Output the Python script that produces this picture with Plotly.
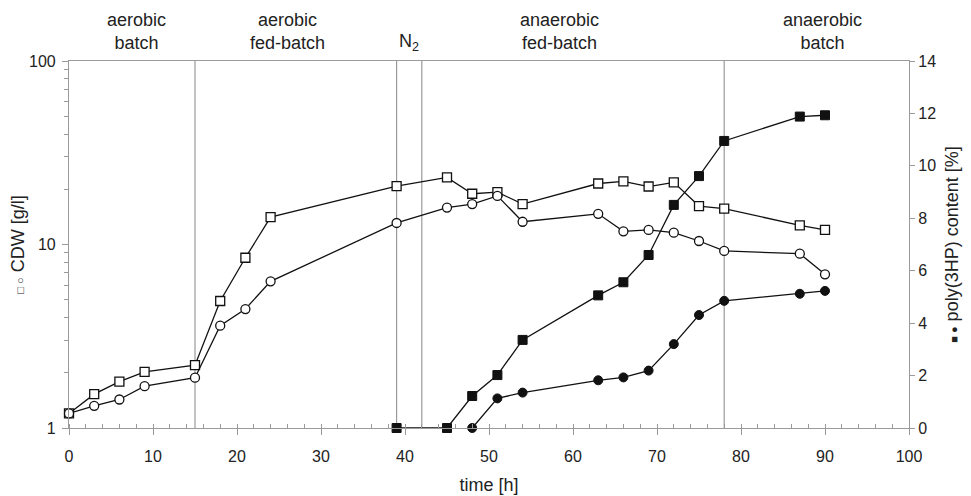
import plotly.graph_objects as go

# ---- data ----
time_h = [0, 3, 6, 9, 15, 18, 21, 24, 39, 45, 48, 51, 54, 63, 66, 69, 72, 75, 78, 87, 90]
cdw_square = [1.2, 1.53, 1.79, 2.02, 2.2, 4.92, 8.47, 14.1, 20.8, 23.2, 18.9, 19.3, 16.6,
              21.5, 22.1, 20.7, 21.8, 16.2, 15.7, 12.7, 12.0]
cdw_circle = [1.2, 1.32, 1.43, 1.69, 1.88, 3.61, 4.45, 6.3, 13.1, 15.9, 16.6, 18.4, 13.3,
              14.7, 11.8, 12.0, 11.6, 10.45, 9.22, 8.91, 6.88]

time_p3hp_sq = [39, 45, 48, 51, 54, 63, 66, 69, 72, 75, 78, 87, 90]
p3hp_square = [0, 0, 1.22, 2.02, 3.36, 5.06, 5.56, 6.6, 8.51, 9.61, 10.95, 11.88, 11.93]
time_p3hp_ci = [48, 51, 54, 63, 66, 69, 72, 75, 78, 87, 90]
p3hp_circle = [0, 1.13, 1.35, 1.82, 1.93, 2.19, 3.2, 4.31, 4.85, 5.12, 5.23]

phase_lines = [15, 39, 42, 78]
phase_labels = ["aerobic<br>batch", "aerobic<br>fed-batch", "anaerobic<br>fed-batch", "anaerobic<br>batch"]
phase_label_x = [8, 26, 58.4, 89.7]
n2_label = "N<sub>2</sub>"
n2_x = 40.5

x_ticks = [0, 10, 20, 30, 40, 50, 60, 70, 80, 90, 100]
y_left_ticks = [1, 10, 100]
y_left_minor = [2, 3, 4, 5, 6, 7, 8, 9, 20, 30, 40, 50, 60, 70, 80, 90]
y_right_ticks = [0, 2, 4, 6, 8, 10, 12, 14]

FONT = "Arial, Liberation Sans, sans-serif"
AXC = "#9a9a9a"
LC = "#111111"
TXT = "#222222"
SYM = "<span style='font-size:11px'>{}</span>"

fig = go.Figure()
fig.add_trace(go.Scatter(x=time_h, y=cdw_square, mode="lines+markers", cliponaxis=False,
                         line=dict(color=LC, width=1.3),
                         marker=dict(symbol="square", size=9, color="white", line=dict(color=LC, width=1.3)),
                         showlegend=False))
fig.add_trace(go.Scatter(x=time_h, y=cdw_circle, mode="lines+markers", cliponaxis=False,
                         line=dict(color=LC, width=1.3),
                         marker=dict(symbol="circle", size=9, color="white", line=dict(color=LC, width=1.3)),
                         showlegend=False))
fig.add_trace(go.Scatter(x=time_p3hp_ci, y=p3hp_circle, mode="lines+markers", cliponaxis=False, yaxis="y2",
                         line=dict(color=LC, width=1.3),
                         marker=dict(symbol="circle", size=9, color=LC, line=dict(color=LC, width=1)),
                         showlegend=False))
fig.add_trace(go.Scatter(x=time_p3hp_sq, y=p3hp_square, mode="lines+markers", cliponaxis=False, yaxis="y2",
                         line=dict(color=LC, width=1.3),
                         marker=dict(symbol="square", size=9, color=LC, line=dict(color=LC, width=1)),
                         showlegend=False))

shapes = []
for xv in phase_lines:
    shapes.append(dict(type="line", xref="x", yref="paper", x0=xv, x1=xv, y0=0, y1=1,
                       line=dict(color=AXC, width=1.2), layer="below"))

annotations = []
for txt, xv in zip(phase_labels, phase_label_x):
    annotations.append(dict(text=txt, x=xv, xref="x", y=1, yref="paper", yanchor="bottom",
                            yshift=6, showarrow=False, font=dict(size=18, color=TXT, family=FONT)))
annotations.append(dict(text=n2_label, x=n2_x, xref="x", y=1, yref="paper", yanchor="bottom",
                        yshift=5, showarrow=False, font=dict(size=18, color=TXT, family=FONT)))

# the page body adds an 8px offset, so the figure is 8px smaller and margins shifted
fig.update_layout(
    width=963, height=488,
    margin=dict(l=61, r=62, t=53, b=68, autoexpand=False),
    paper_bgcolor="white", plot_bgcolor="white",
    font=dict(family=FONT, size=16, color=TXT),
    shapes=shapes, annotations=annotations,
    xaxis=dict(range=[0, 100], tickvals=x_ticks, showgrid=False, zeroline=False, automargin=False,
               showline=True, linecolor=AXC, linewidth=1.2, mirror=True,
               ticks="outside", ticklen=6, tickcolor=AXC, tickwidth=1.2, ticklabelstandoff=8,
               minor=dict(dtick=2, ticks="inside", ticklen=4, tickcolor=AXC, tickwidth=1),
               title=dict(text="time [h]", standoff=14, font=dict(size=18)),
               tickfont=dict(size=16)),
    yaxis=dict(type="log", range=[0, 2], tickvals=y_left_ticks, ticktext=["1", "10", "100"],
               showgrid=False, zeroline=False, showline=True, linecolor=AXC, linewidth=1.2,
               automargin=False, ticklabelstandoff=3,
               ticks="outside", ticklen=6, tickcolor=AXC, tickwidth=1.2,
               minor=dict(tickvals=y_left_minor, ticks="outside", ticklen=4, tickcolor=AXC, tickwidth=1),
               title=dict(text=SYM.format("□ ○") + " CDW [g/l]", standoff=0, font=dict(size=18)),
               tickfont=dict(size=16)),
    yaxis2=dict(range=[0, 14], tickvals=y_right_ticks, overlaying="y", side="right",
                showgrid=False, zeroline=False, showline=True, linecolor=AXC, linewidth=1.2,
                automargin=False,
                ticks="outside", ticklen=5, tickcolor=AXC, tickwidth=1.2,
                title=dict(text=SYM.format("■ ●") + " poly(3HP) content [%]", standoff=10,
                           font=dict(size=18)),
                tickfont=dict(size=16)),
)

fig.write_html("out.html")
